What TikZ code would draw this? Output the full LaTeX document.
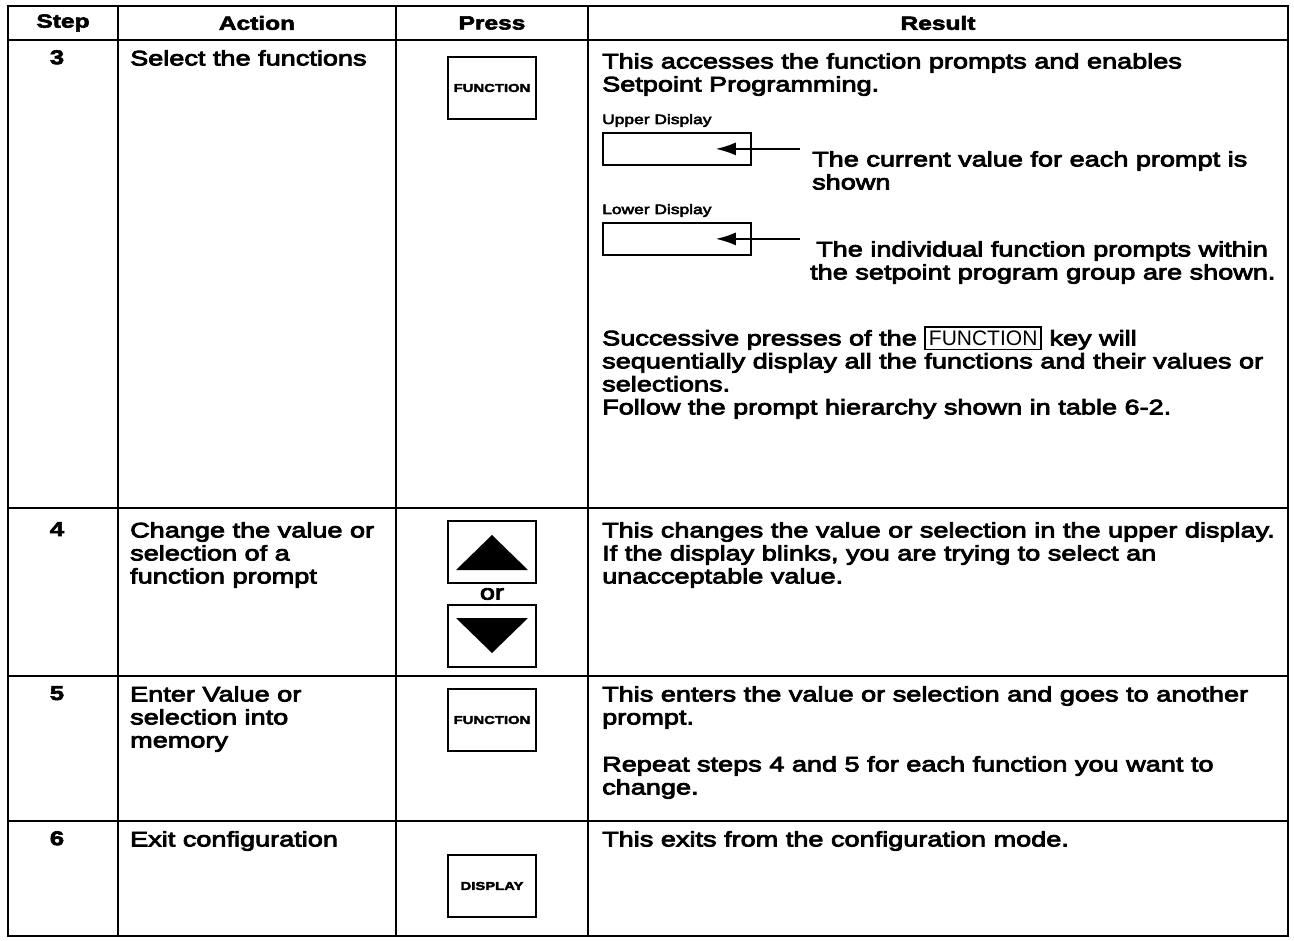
\documentclass[tikz,border=0pt]{standalone}
\usepackage{fontspec}
\setmainfont{Liberation Sans}
\newfontfamily\bodyfont{Liberation Sans}[FakeStretch=1.29, FakeBold=4]
\newfontfamily\headfont{Liberation Sans}[FakeStretch=1.29, FakeBold=3]
\usetikzlibrary{arrows.meta}

\tikzset{
  rule/.style={line width=1.8pt},
  keybox/.style={draw, line width=1.8pt, minimum width=88pt, minimum height=62pt, inner sep=0pt, font=\headfont\fontsize{11.5}{11.5}\selectfont\bfseries},
  dispbox/.style={draw, line width=1.8pt, minimum width=148pt, minimum height=32pt, inner sep=0pt, anchor=north west},
  txt/.style={anchor=north west, align=left, inner sep=0pt, font=\bodyfont\fontsize{21}{23}\selectfont},
  headtxt/.style={inner sep=0pt, font=\headfont\fontsize{19}{20}\selectfont\bfseries},
  steptxt/.style={anchor=north, inner sep=0pt, font=\headfont\fontsize{20}{22}\selectfont\bfseries},
  smalltxt/.style={anchor=south west, inner sep=0pt, font=\bodyfont\fontsize{13.5}{15}\selectfont},
  pointer/.style={line width=1.8pt, -{Latex[length=20pt,width=13pt]}}
}

\begin{document}
\begin{tikzpicture}[x=1pt,y=-1pt]
  \def\xa{8}
  \def\xb{118}
  \def\xc{396}
  \def\xd{588}
  \def\xe{1288}
  \def\ya{6}
  \def\yb{40}
  \def\yc{508}
  \def\yd{676}
  \def\ye{821}
  \def\yf{936}
  \useasboundingbox (0,0) rectangle (1294,941);

  %Table rules
  \draw[rule] (\xa,\ya) rectangle (\xe,\yf);
  \foreach \x in {\xb,\xc,\xd}
    \draw[rule] (\x,\ya) -- (\x,\yf);
  \foreach \y in {\yb,\yc,\yd,\ye}
    \draw[rule] (\xa,\y) -- (\xe,\y);

  %Header
  \node[headtxt] (hstep) at ({(\xa+\xb)/2},{(\ya+\yb)/2}) {Step};
  \node[headtxt] (haction) at ({(\xb+\xc)/2},{(\ya+\yb)/2}) {Action};
  \node[headtxt] (hpress) at ({(\xc+\xd)/2},{(\ya+\yb)/2}) {Press};
  \node[headtxt] (hresult) at ({(\xd+\xe)/2},{(\ya+\yb)/2}) {Result};

  %Step 3
  \node[steptxt] (s3) at ({(\xa+\xb)/2-6},{\yb+10}) {3};
  \node[txt] (a3) at ({\xb+12},{\yb+10}) {Select the functions};
  \node[keybox] (k3) at ({(\xc+\xd)/2},88) {FUNCTION};
  \node[txt] (r3a) at ({\xd+14},{\yb+13}) {This accesses the function prompts and enables\\Setpoint Programming.};
  \node[smalltxt] (uplab) at ({\xd+14},127) {Upper Display};
  \node[dispbox] (updisp) at ({\xd+14},132) {};
  \node[txt] (uptxt) at (812,151) {The current value for each prompt is\\shown};
  \coordinate (upend) at (updisp.east -| uptxt.west);
  \draw[pointer] ([xshift=-12pt]upend) -- ([xshift=-36pt]updisp.east);
  \node[smalltxt] (lowlab) at ({\xd+14},217) {Lower Display};
  \node[dispbox] (lowdisp) at ({\xd+14},222) {};
  \node[txt] (lowtxt) at (810,241) {\hspace*{6pt}The individual function prompts within\\the setpoint program group are shown.};
  \coordinate (lowend) at (lowdisp.east -| lowtxt.west);
  \draw[pointer] ([xshift=-10pt]lowend) -- ([xshift=-36pt]lowdisp.east);
  \fboxsep=3pt \fboxrule=1.5pt
  \node[txt] (r3b) at ({\xd+14},326) {Successive presses of the \fbox{\normalfont\fontsize{21}{21}\selectfont FUNCTION} key will\\sequentially display all the functions and their values or\\selections.\\Follow the prompt hierarchy shown in table 6-2.};

  %Step 4
  \node[steptxt] (s4) at ({(\xa+\xb)/2-6},{\yc+14}) {4};
  \node[txt] (a4) at ({\xb+12},{\yc+14}) {Change the value or\\selection of a\\function prompt};
  \node[keybox] (kup) at ({(\xc+\xd)/2},552) {};
  \fill ([xshift=-36pt,yshift=-18pt]kup.center) -- ([xshift=36pt,yshift=-18pt]kup.center) -- ([yshift=17pt]kup.center) -- cycle;
  \node[txt, anchor=center] (kor) at ({(\xc+\xd)/2},594) {or};
  \node[keybox] (kdown) at ({(\xc+\xd)/2},636) {};
  \fill ([xshift=-36pt,yshift=18pt]kdown.center) -- ([xshift=36pt,yshift=18pt]kdown.center) -- ([yshift=-17pt]kdown.center) -- cycle;
  \node[txt] (r4) at ({\xd+14},{\yc+14}) {This changes the value or selection in the upper display.\\If the display blinks, you are trying to select an\\unacceptable value.};

  %Step 5
  \node[steptxt] (s5) at ({(\xa+\xb)/2-6},{\yd+10}) {5};
  \node[txt] (a5) at ({\xb+12},{\yd+10}) {Enter Value or\\selection into\\memory};
  \node[keybox] (k5) at ({(\xc+\xd)/2},720) {FUNCTION};
  \node[txt] (r5a) at ({\xd+14},{\yd+10}) {This enters the value or selection and goes to another\\prompt.};
  \node[txt] (r5b) at ({\xd+14},{\yd+80}) {Repeat steps 4 and 5 for each function you want to\\change.};

  %Step 6
  \node[steptxt] (s6) at ({(\xa+\xb)/2-6},{\ye+10}) {6};
  \node[txt] (a6) at ({\xb+12},{\ye+10}) {Exit configuration};
  \node[keybox] (k6) at ({(\xc+\xd)/2},886) {DISPLAY};
  \node[txt] (r6) at ({\xd+14},{\ye+10}) {This exits from the configuration mode.};
\end{tikzpicture}
\end{document}
